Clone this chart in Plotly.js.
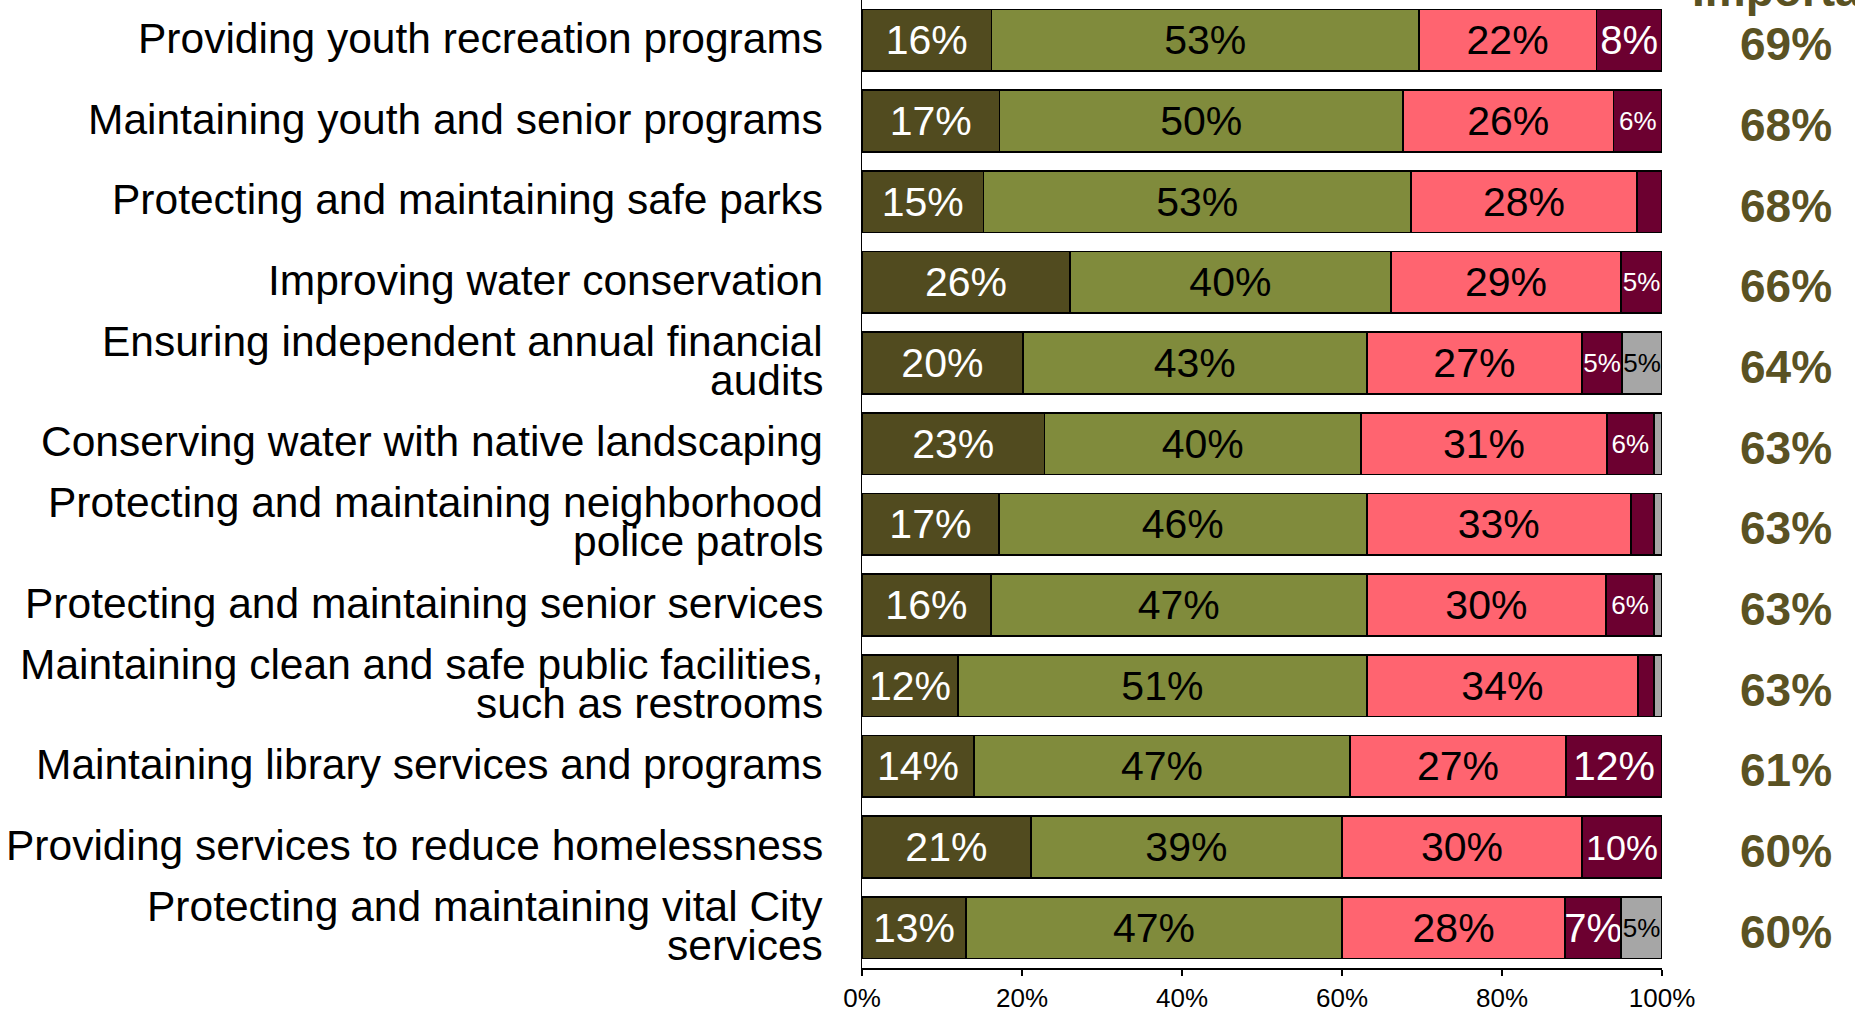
<!DOCTYPE html>
<html>
<head>
<meta charset="utf-8">
<script src="https://cdn.plot.ly/plotly-3.0.1.min.js"></script>
<style>html,body{margin:0;padding:0;background:#fff;}#chart{width:1855px;height:1012px;}</style>
</head>
<body>
<div id="chart"></div>
<script>
// ---- data ----
const categories = [
  "Providing youth recreation programs",
  "Maintaining youth and senior programs",
  "Protecting and maintaining safe parks",
  "Improving water conservation",
  "Ensuring independent annual financial\naudits",
  "Conserving water with native landscaping",
  "Protecting and maintaining neighborhood\npolice patrols",
  "Protecting and maintaining senior services",
  "Maintaining clean and safe public facilities,\nsuch as restrooms",
  "Maintaining library services and programs",
  "Providing services to reduce homelessness",
  "Protecting and maintaining vital City\nservices"
];
const extremelyImportant = [16.2, 17.2, 15.2, 26.0, 20.1, 22.8, 17.1, 16.1, 12.0, 14.0, 21.1, 13.0];
const veryImportant      = [53.4, 50.4, 53.4, 40.1, 43.0, 39.6, 46.0, 47.0, 51.1, 47.0, 38.9, 47.0];
const somewhatImportant  = [22.2, 26.35, 28.3, 28.8, 26.9, 30.7, 33.0, 29.9, 33.9, 27.0, 30.0, 27.9];
const notImportant       = [8.2, 6.05, 3.1, 5.1, 5.0, 5.9, 2.9, 6.0, 2.0, 12.0, 10.0, 7.0];
const dontKnow           = [0, 0, 0, 0, 5.0, 1.0, 1.0, 1.0, 1.0, 0, 0, 5.1];
const totalImportant     = [69, 68, 68, 66, 64, 63, 63, 63, 63, 61, 60, 60];
const xTickValues        = [0, 20, 40, 60, 80, 100];
const headerText         = "Important";

// ---- build ----
const FONT = "Liberation Sans, Arial, sans-serif";
const yNames = categories.map(c => c.replace("\n", " "));
const PLOT_W = 800;

function labelSize(v) {
  if (v < 6.5) return 26;
  const label = Math.round(v) + "%";
  if (label.length < 3) return 40;
  const em = (label.length - 1) * 0.556 + 0.889;
  return Math.min(41, 0.9 * (v / 100) * PLOT_W / em);
}

function seriesTrace(name, vals, color, textColor) {
  return {
    type: "bar", orientation: "h", name: name,
    y: yNames, x: vals,
    marker: {color: color, line: {color: "#000000", width: 1.5}},
    text: vals.map(v => v >= 4.5 ? Math.round(v) + "%" : ""),
    textposition: "inside",
    insidetextanchor: "middle",
    textangle: 0,
    constraintext: "none",
    textfont: {family: FONT, color: textColor, size: vals.map(labelSize)},
    hoverinfo: "none",
    showlegend: false
  };
}

const data = [
  seriesTrace("Extremely important", extremelyImportant, "#514b1f", "#ffffff"),
  seriesTrace("Very important", veryImportant, "#808b3c", "#000000"),
  seriesTrace("Somewhat important", somewhatImportant, "#ff6470", "#000000"),
  seriesTrace("Not important", notImportant, "#6c0030", "#ffffff"),
  seriesTrace("Don't know", dontKnow, "#a6a6a6", "#000000")
];

const annotations = [];
categories.forEach((c, i) => {
  const lines = c.split("\n");
  const n = lines.length;
  lines.forEach((ln, j) => {
    annotations.push({
      xref: "paper", yref: "y", x: 0, y: i,
      xanchor: "right", yanchor: "middle",
      xshift: -37, yshift: (n - 1) * 19.5 - j * 39 + 2,
      text: ln, showarrow: false,
      font: {family: FONT, size: 42.5, color: "#000000"}
    });
  });
  annotations.push({
    xref: "paper", yref: "y", x: 1.155, y: i,
    xanchor: "center", yanchor: "middle", yshift: -4,
    text: totalImportant[i] + "%", showarrow: false,
    font: {family: FONT, size: 46, color: "#5a5223", weight: "bold"}
  });
});
annotations.push({
  xref: "paper", yref: "paper", x: 1.155, y: 1,
  xanchor: "center", yanchor: "bottom", yshift: -18, xshift: 12,
  text: "<b>" + headerText + "</b>", showarrow: false,
  font: {family: FONT, size: 46, color: "#5a5223"}
});

const layout = {
  width: 1855, height: 1012,
  margin: {l: 862, r: 193, t: 0, b: 44, pad: 0},
  paper_bgcolor: "#ffffff", plot_bgcolor: "#ffffff",
  barmode: "stack",
  bargap: 0.237,
  font: {family: FONT, color: "#000000"},
  xaxis: {
    range: [0, 100], tickvals: xTickValues, ticktext: xTickValues.map(v => v + "%"),
    showgrid: false, zeroline: false,
    showline: true, linecolor: "#000000", linewidth: 1.5,
    ticks: "outside", ticklen: 6, tickwidth: 1.5, tickcolor: "#000000",
    tickfont: {family: FONT, size: 26, color: "#000000"},
    fixedrange: true
  },
  yaxis: {
    type: "category", range: [11.5, -0.5],
    showticklabels: false, showgrid: false, zeroline: false,
    showline: true, linecolor: "#000000", linewidth: 1.5, ticks: "",
    fixedrange: true
  },
  annotations: annotations,
  showlegend: false
};

Plotly.newPlot("chart", data, layout, {displayModeBar: false, staticPlot: true});
</script>
</body>
</html>
